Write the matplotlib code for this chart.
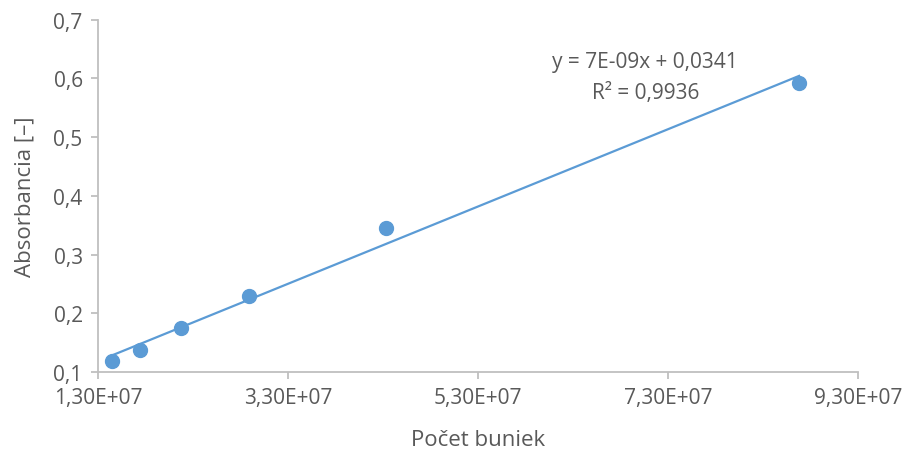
import numpy as np
import matplotlib.pyplot as plt
from matplotlib.ticker import FuncFormatter

# values
pocet_buniek = [1.447e7, 1.742e7, 2.174e7, 2.889e7, 4.33e7, 8.679e7]
absorbancia = [0.119, 0.137, 0.175, 0.229, 0.345, 0.593]

eq_text = "y = 7E-09x + 0,0341"
r2_text = "R² = 0,9936"

x_ticks = [1.3e7, 3.3e7, 5.3e7, 7.3e7, 9.3e7]
y_ticks = [0.1, 0.2, 0.3, 0.4, 0.5, 0.6, 0.7]

blue = "#5b9bd5"
txt = "#595959"
grid_c = "#bfbfbf"

plt.rcParams['font.family'] = ['Open Sans', 'DejaVu Sans']

fig = plt.figure(figsize=(9.09, 4.6), dpi=100)
ax = fig.add_axes([0.1078, 0.189, 0.8362, 0.766])

x = np.array(pocet_buniek)
y = np.array(absorbancia)

# linear trendline over data range
k, q = np.polyfit(x, y, 1)
xl = np.array([x.min(), x.max()])
ax.plot(xl, k * xl + q, color=blue, lw=1.6, zorder=2)
ax.plot(x, y, "o", color=blue, markersize=10, zorder=3)

ax.text(7.06e7, 0.628, eq_text, ha="center", va="center", fontsize=15, color=txt)
ax.text(7.06e7, 0.576, r2_text, ha="center", va="center", fontsize=15, color=txt)

ax.set_xlim(1.3e7, 9.3e7)
ax.set_ylim(0.1, 0.7)
ax.set_xticks(x_ticks)
ax.set_yticks(y_ticks)
ax.xaxis.set_major_formatter(FuncFormatter(lambda v, p: ("%.2E" % v).replace(".", ",")))
ax.yaxis.set_major_formatter(FuncFormatter(lambda v, p: ("%.1f" % v).replace(".", ",")))

for s in ["top", "right"]:
    ax.spines[s].set_visible(False)
for s in ["left", "bottom"]:
    ax.spines[s].set_color(grid_c)
    ax.spines[s].set_linewidth(1.3)
ax.tick_params(colors=txt, labelsize=15, length=5, width=1.3, direction="out", pad=6)
ax.tick_params(axis="both", color=grid_c)

ax.set_xlabel("Počet buniek", fontsize=16, color=txt, labelpad=15)
ax.set_ylabel("Absorbancia [–]", fontsize=16, color=txt, labelpad=13)

fig.savefig("out.png", dpi=100)
